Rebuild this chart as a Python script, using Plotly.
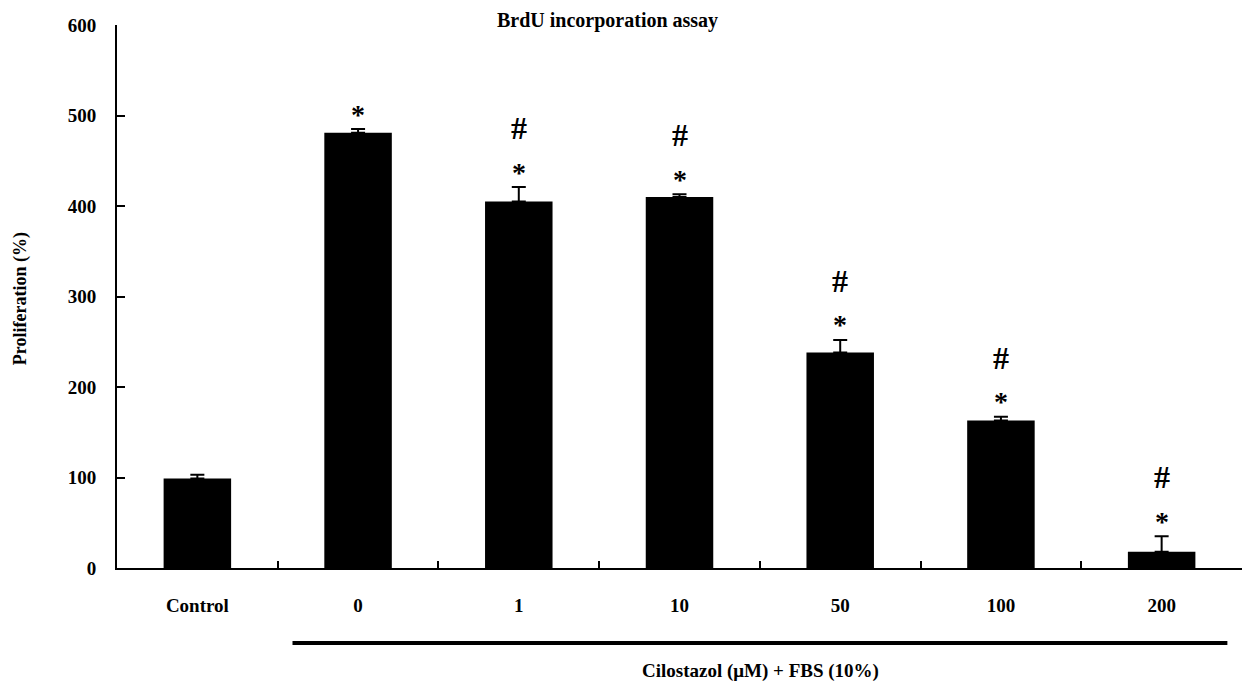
import plotly.graph_objects as go

categories = ["Control", "0", "1", "10", "50", "100", "200"]
proliferation = [99, 481, 405, 410, 238, 163, 18]
sem_upper = [4, 4, 16, 3, 14, 4, 17]
star_marks = ["", "*", "*", "*", "*", "*", "*"]
hash_marks = ["", "", "#", "#", "#", "#", "#"]
y_ticks = [0, 100, 200, 300, 400, 500, 600]

FONT = "Liberation Serif"

fig = go.Figure()
fig.add_trace(go.Bar(
    x=categories, y=proliferation, width=0.42,
    marker=dict(color="black", line=dict(width=0)),
    error_y=dict(type="data", symmetric=False, array=sem_upper,
                 arrayminus=[0] * len(sem_upper),
                 color="black", thickness=2, width=7),
    showlegend=False,
))

annotations = []
for i, (v, e, s, h) in enumerate(zip(proliferation, sem_upper, star_marks, hash_marks)):
    if s:
        annotations.append(dict(x=i, y=v + e, xref="x", yref="y", text="<b>" + s + "</b>",
                                showarrow=False, yanchor="middle", yshift=15,
                                font=dict(family=FONT, size=28, color="black")))
    if h:
        annotations.append(dict(x=i, y=v + e, xref="x", yref="y", text="<b>" + h + "</b>",
                                showarrow=False, yanchor="middle", yshift=59,
                                font=dict(family=FONT, size=32, color="black")))

annotations.append(dict(x=0.436, y=1.0, xref="paper", yref="paper", yshift=5,
                        text="<b>BrdU incorporation assay</b>", showarrow=False,
                        xanchor="center", yanchor="middle",
                        font=dict(family=FONT, size=20, color="black")))
annotations.append(dict(x=-0.0862, y=0.495, xref="paper", yref="paper",
                        text="<b>Proliferation (%)</b>", showarrow=False, textangle=-90,
                        xanchor="center", yanchor="middle",
                        font=dict(family=FONT, size=18, color="black")))
annotations.append(dict(x=0.572, y=-0.19, xref="paper", yref="paper",
                        text="<b>Cilostazol (μM) + FBS (10%)</b>", showarrow=False,
                        xanchor="center", yanchor="middle",
                        font=dict(family=FONT, size=19, color="black")))

fig.add_shape(type="line", xref="paper", yref="paper", x0=0.156, x1=0.987,
              y0=-0.138, y1=-0.138, line=dict(color="black", width=4))

fig.update_layout(
    width=1244, height=683,
    margin=dict(l=117, r=2, t=25, b=115),
    plot_bgcolor="white", paper_bgcolor="white",
    annotations=annotations,
    xaxis=dict(type="category", tickson="boundaries", ticks="inside", ticklen=7,
               tickwidth=1.5, tickcolor="black", showline=True, linecolor="black",
               linewidth=2, showgrid=False, ticklabelstandoff=19, automargin=False,
               tickangle=0, range=[-0.5, 6.5],
               tickfont=dict(family=FONT, size=19, color="black", weight="bold")),
    yaxis=dict(range=[0, 600], tickvals=y_ticks, ticks="inside", ticklen=8,
               tickwidth=1.5, tickcolor="black", showline=True, linecolor="black",
               linewidth=2, showgrid=False, zeroline=False, ticklabelstandoff=15,
               automargin=False,
               tickfont=dict(family=FONT, size=19, color="black", weight="bold")),
)

fig.write_html("out.html", config={"displayModeBar": False},
               post_script="document.body.style.margin='0';document.body.style.overflow='hidden';")
